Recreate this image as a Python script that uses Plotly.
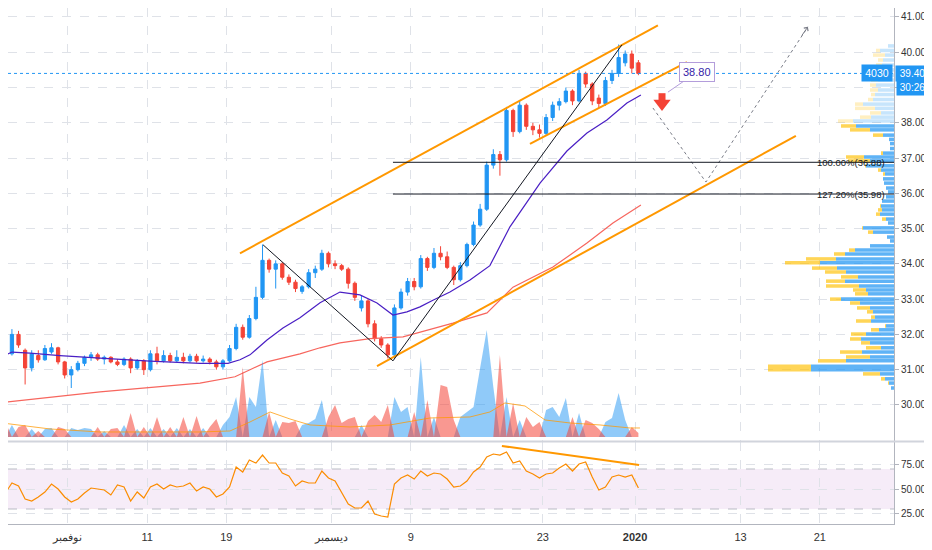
import plotly.graph_objects as go

# --- Price bars (4030, two bars per trading day, x = trading-day count from 27 Oct) ---
opens = [31.50, 31.45, 32.00, 31.55, 31.05, 31.40, 31.28, 31.50, 31.62, 31.22,
         30.85, 31.00, 31.18, 31.35, 31.42, 31.30, 31.35, 31.22, 31.15, 31.30,
         31.05, 31.25, 31.00, 31.45, 31.25, 31.40, 31.25, 31.35, 31.25, 31.38,
         31.25, 31.30, 31.22, 31.08, 31.25, 31.60, 32.20, 31.92, 32.45, 33.05,
         34.10, 33.85, 34.00, 33.62, 33.48, 33.22, 33.35, 33.75, 33.85, 34.30,
         34.00, 33.95, 33.85, 33.45, 32.75, 32.95, 32.30, 31.88, 31.70, 31.42,
         32.75, 33.20, 33.50, 33.35, 34.15, 33.90, 34.30, 34.20, 33.90, 33.55,
         33.95, 34.55, 35.10, 35.55, 36.80, 37.10, 36.95, 38.35, 37.75, 38.50,
         37.90, 37.80, 37.70, 38.15, 38.50, 38.60, 38.90, 38.62, 39.40, 39.10,
         38.70, 38.55, 39.20, 39.40, 39.70, 39.95, 39.70]
highs = [31.60, 32.15, 32.10, 31.60, 31.55, 31.55, 31.70, 31.75, 31.65, 31.25,
         31.10, 31.25, 31.40, 31.50, 31.48, 31.40, 31.38, 31.30, 31.35, 31.35,
         31.30, 31.30, 31.55, 31.65, 31.55, 31.48, 31.55, 31.48, 31.45, 31.45,
         31.40, 31.35, 31.28, 31.30, 31.70, 32.30, 32.28, 32.55, 33.35, 34.55,
         34.15, 34.10, 34.05, 33.70, 33.55, 33.40, 33.85, 33.95, 34.40, 34.35,
         34.10, 34.00, 33.90, 33.50, 33.10, 33.00, 32.40, 31.95, 31.75, 32.85,
         33.30, 33.60, 33.60, 34.25, 34.20, 34.45, 34.50, 34.35, 33.95, 34.05,
         34.60, 35.20, 35.70, 36.90, 37.25, 37.20, 38.45, 38.40, 38.62, 38.55,
         38.00, 37.95, 38.25, 38.60, 38.70, 39.00, 38.95, 39.50, 39.45, 39.15,
         38.80, 39.30, 39.50, 40.22, 40.05, 40.05, 39.78]
lows = [31.28, 31.40, 31.62, 30.58, 30.95, 31.20, 31.25, 31.45, 31.15, 30.75,
        30.48, 30.95, 31.10, 31.25, 31.25, 31.15, 31.18, 31.10, 31.10, 30.90,
        31.00, 30.85, 30.95, 31.15, 31.20, 31.20, 31.20, 31.18, 31.20, 31.20,
        31.20, 31.15, 31.00, 31.00, 31.22, 31.55, 31.85, 31.88, 32.40, 33.00,
        33.75, 33.30, 33.55, 33.40, 33.20, 33.15, 33.30, 33.60, 33.80, 33.90,
        33.85, 33.80, 33.30, 32.95, 32.65, 32.20, 31.80, 31.62, 31.32, 31.30,
        32.70, 33.10, 33.25, 33.30, 33.80, 33.85, 34.10, 33.85, 33.40, 33.50,
        33.90, 34.50, 35.05, 35.50, 36.70, 36.50, 36.90, 37.60, 37.70, 37.80,
        37.65, 37.58, 37.65, 38.05, 38.35, 38.55, 38.50, 38.58, 39.00, 38.50,
        38.42, 38.48, 39.10, 39.30, 39.60, 39.40, 39.35]
closes = [31.40, 32.00, 31.70, 31.05, 31.45, 31.28, 31.60, 31.62, 31.22, 30.85,
          31.00, 31.18, 31.35, 31.42, 31.30, 31.35, 31.22, 31.15, 31.30, 31.05,
          31.25, 31.00, 31.45, 31.25, 31.40, 31.25, 31.35, 31.25, 31.38, 31.25,
          31.30, 31.22, 31.08, 31.25, 31.60, 32.20, 31.92, 32.45, 33.05, 34.10,
          33.85, 34.00, 33.62, 33.48, 33.30, 33.35, 33.75, 33.85, 34.30, 34.00,
          33.95, 33.85, 33.45, 33.05, 32.95, 32.30, 31.88, 31.70, 31.42, 32.75,
          33.20, 33.50, 33.35, 34.15, 33.90, 34.30, 34.20, 33.90, 33.55, 33.95,
          34.55, 35.10, 35.55, 36.80, 37.10, 36.95, 38.35, 37.75, 38.50, 37.90,
          37.80, 37.70, 38.15, 38.50, 38.60, 38.90, 38.62, 39.40, 39.10, 38.62,
          38.55, 39.20, 39.40, 39.85, 39.95, 39.55, 39.40]
volumes = [15, 12, 10, 12, 8, 6, 8, 9, 10, 8,
           9, 7, 9, 8, 10, 6, 8, 9, 12, 24,
           8, 10, 9, 20, 8, 10, 9, 20, 8, 21,
           9, 10, 18, 12, 20, 40, 70, 40, 30, 77,
           25, 17, 15, 14, 16, 12, 14, 18, 37, 20,
           32, 14, 18, 20, 12, 16, 22, 15, 32, 40,
           25, 30, 25, 80, 37, 20, 52, 50, 17, 20,
           25, 30, 69, 107, 50, 82, 40, 34, 17, 20,
           10, 15, 27, 30, 20, 39, 20, 24, 17, 14,
           8, 15, 19, 44, 17, 10, 4]
rsi = [46, 56, 53, 40, 38, 42, 47, 55, 50, 42,
       37, 40, 46, 51, 50, 49, 44, 54, 52, 38,
       47, 41, 52, 55, 50, 54, 52, 53, 56, 48,
       52, 50, 42, 45, 52, 72, 67, 79, 76, 84,
       76, 76, 66, 63, 53, 58, 56, 56, 68, 61,
       58, 46, 35, 31, 31, 38, 25, 23, 22, 55,
       61, 64, 60, 68, 63, 66, 65, 60, 52, 53,
       58, 67, 72, 82, 85, 84, 87, 76, 78, 68,
       65, 61, 65, 66, 71, 75, 68, 75, 77, 62,
       49, 52, 62, 64, 62, 64, 51]

# moving averages
ma_fast_x = [0.07, 0.76, 2.12, 4.39, 7.43, 11.22, 15.01, 17.13, 18.04, 18.8, 20.09, 21.3,
             22.59, 24.11, 25.62, 27.14, 28.43, 29.64, 30.7, 31.69, 32.67, 33.96, 35.48,
             36.99, 38.51, 40.79, 42.83, 44.35, 45.86, 47.38, 48.44]
ma_fast = [31.38, 31.50, 31.47, 31.40, 31.33, 31.24, 31.18, 31.18, 31.28, 31.42, 31.84, 32.18,
           32.47, 32.90, 33.20, 33.12, 32.89, 32.55, 32.64, 32.78, 32.97, 33.20, 33.54,
           33.95, 35.05, 36.29, 37.20, 37.71, 38.08, 38.56, 38.79]
ma_slow_x = [-0.15, 7.43, 15.01, 17.66, 18.8, 20.09, 22.59, 24.11, 25.62, 27.9, 30.4,
             34.19, 36.77, 38.74, 41.77, 44.35, 46.32, 48.44]
ma_slow = [30.06, 30.37, 30.62, 30.80, 31.00, 31.22, 31.45, 31.62, 31.76, 31.88, 31.93,
           32.32, 32.61, 33.34, 33.91, 34.59, 35.16, 35.67]
vol_ma_x = [0.0, 3.64, 7.43, 11.22, 15.01, 17.28, 18.8, 20.32, 21.83, 23.35, 26.38, 29.41,
            32.45, 35.48, 36.99, 38.13, 39.65, 41.17, 43.06, 45.34, 47.61, 48.37]
vol_ma = [14, 8, 5, 5, 5, 6, 15, 25, 18, 12, 10, 12, 19, 20, 25, 34, 31, 17, 14, 12, 9, 9]

# visible-range volume profile
profile_price = [40.18, 40.05, 39.92, 39.78, 39.64, 39.50, 39.35, 39.21, 39.07, 38.93,
                 38.80, 38.66, 38.53, 38.41, 38.28, 38.16, 38.05, 37.91, 37.80, 37.65,
                 37.53, 37.41, 37.27, 37.14, 37.03, 36.92, 36.78, 36.66, 36.55, 36.41,
                 36.29, 36.15, 36.04, 35.90, 35.78, 35.64, 35.53, 35.41, 35.27, 35.16,
                 35.02, 34.90, 34.76, 34.65, 34.51, 34.39, 34.28, 34.14, 34.03, 33.88,
                 33.77, 33.63, 33.51, 33.37, 33.26, 33.15, 33.00, 32.89, 32.75, 32.64,
                 32.49, 32.38, 32.24, 32.13, 32.01, 31.87, 31.76, 31.62, 31.50, 31.36,
                 31.25, 31.10, 31.00, 30.88, 30.74, 30.62, 30.48]
profile_up = [6, 14, 9, 11, 12, 14, 15, 16, 18, 16,
              19, 21, 31, 19, 13, 23, 41, 38, 24, 11,
              5, 4, 4, 11, 30, 24, 28, 13, 9, 11,
              10, 8, 6, 8, 12, 13, 12, 14, 8, 6,
              31, 21, 7, 4, 24, 39, 49, 58, 74, 57,
              48, 36, 49, 35, 28, 26, 53, 34, 24, 21,
              19, 23, 8, 15, 28, 33, 24, 13, 32, 24,
              48, 83, 83, 14, 9, 5, 3]
profile_down = [0, 4, 12, 5, 6, 6, 7, 7, 6, 8,
                4, 5, 8, 20, 11, 11, 15, 15, 20, 10,
                0, 0, 0, 2, 18, 22, 1, 3, 2, 0,
                0, 0, 0, 0, 0, 1, 4, 4, 4, 0,
                1, 5, 0, 0, 0, 6, 11, 30, 35, 25,
                21, 17, 19, 33, 13, 13, 11, 10, 13, 6,
                4, 15, 1, 8, 15, 11, 9, 15, 22, 24,
                28, 43, 43, 17, 4, 1, 0]

tick_days = [5, 11, 17, 25, 31, 41, 48, 56, 62]
tick_text = ["نوفمبر", "11", "19", "ديسمبر", "9", "23", "<b>2020</b>", "13", "21"]
price_ticks = [30, 31, 32, 33, 34, 35, 36, 37, 38, 39, 40, 41]
rsi_ticks = [25, 50, 75]

LAST_PRICE = 39.40
FIB_LEVELS = [("100.00%(36.88)", 36.88), ("127.20%(35.98)", 35.98)]

# --- Style ---
UP = "#2196f3"
DOWN = "#f44336"
GRID = "#dfe2e8"
AXIS = "#b2b5be"
TEXT = "#333333"
FONT = "Liberation Sans, Arial, sans-serif"
ORANGE = "#ff9800"

bar_x = [0.25 + 0.5 * i for i in range(len(closes))]
vol_up = [v if c >= o else 0 for v, o, c in zip(volumes, opens, closes)]
vol_dn = [v if c < o else 0 for v, o, c in zip(volumes, opens, closes)]

# the 39.00 label sits under the countdown box, so leave it blank
price_text = ["" if p == 39 else f"{p:.2f}" for p in price_ticks]

fig = go.Figure()

# volume (own hidden axis at the bottom of the price pane)
fig.add_trace(go.Scatter(x=bar_x, y=vol_up, mode="lines", fill="tozeroy",
                         line=dict(width=0, color=UP), fillcolor="rgba(33,150,243,0.5)",
                         yaxis="y3", hoverinfo="skip"))
fig.add_trace(go.Scatter(x=bar_x, y=vol_dn, mode="lines", fill="tozeroy",
                         line=dict(width=0, color=DOWN), fillcolor="rgba(244,67,54,0.55)",
                         yaxis="y3", hoverinfo="skip"))
fig.add_trace(go.Scatter(x=vol_ma_x, y=vol_ma, mode="lines",
                         line=dict(width=1, color="rgba(255,152,0,0.75)"), yaxis="y3"))

# volume profile, anchored to the price scale
faded = [p > 37.95 for p in profile_price]
fig.add_trace(go.Bar(y=profile_price, x=profile_down, base=profile_up, orientation="h",
                     width=0.1, xaxis="x2", yaxis="y",
                     marker=dict(color=["rgba(255,193,7,0.25)" if f else "rgba(255,193,7,0.68)" for f in faded],
                                 line=dict(width=0))))
fig.add_trace(go.Bar(y=profile_price, x=profile_up, orientation="h",
                     width=0.1, xaxis="x2", yaxis="y",
                     marker=dict(color=["rgba(33,150,243,0.25)" if f else "rgba(33,150,243,0.72)" for f in faded],
                                 line=dict(width=0))))

# moving averages
fig.add_trace(go.Scatter(x=ma_slow_x, y=ma_slow, mode="lines",
                         line=dict(color="#f7665e", width=1.2)))
fig.add_trace(go.Scatter(x=ma_fast_x, y=ma_fast, mode="lines",
                         line=dict(color="#4a1fc4", width=1.2)))

fig.add_trace(go.Candlestick(
    x=bar_x, open=opens, high=highs, low=lows, close=closes,
    increasing=dict(line=dict(color=UP, width=1), fillcolor=UP),
    decreasing=dict(line=dict(color=DOWN, width=1), fillcolor=DOWN),
    whiskerwidth=0,
))

# RSI pane
fig.add_trace(go.Scatter(x=bar_x, y=rsi, mode="lines", yaxis="y2",
                         line=dict(color="#fb8c00", width=1.2)))

# --- Drawings ---
shapes = []
# rsi band
shapes.append(dict(type="rect", xref="paper", yref="y2", x0=0, x1=1, y0=30, y1=70,
                   fillcolor="rgba(156,39,176,0.09)", line=dict(width=0), layer="below"))
for lvl in (30, 70):
    shapes.append(dict(type="line", xref="paper", yref="y2", x0=0, x1=1, y0=lvl, y1=lvl,
                       line=dict(color="#b9bcc4", width=1, dash="dash"), layer="below"))
# pane divider
shapes.append(dict(type="line", xref="paper", yref="paper", x0=0, x1=1.043,
                   y0=0.1599, y1=0.1599, line=dict(color="#d1d4dc", width=2)))
# last price line
shapes.append(dict(type="line", xref="paper", yref="y", x0=0, x1=1,
                   y0=LAST_PRICE, y1=LAST_PRICE, line=dict(color=UP, width=1, dash="dot")))

channel_lines = [((18.04, 34.30), (49.73, 40.76)),
                 ((28.43, 31.10), (60.19, 37.63)),
                 ((40.03, 37.40), (51.93, 39.72))]
for (x0, y0), (x1, y1) in channel_lines:
    shapes.append(dict(type="line", xref="x", yref="y", x0=x0, y0=y0, x1=x1, y1=y1,
                       line=dict(color=ORANGE, width=2)))
shapes.append(dict(type="line", xref="x", yref="y2", x0=37.9, y0=93, x1=48.3, y1=74,
                   line=dict(color=ORANGE, width=2)))

swing_path = [(19.79, 34.54), (29.64, 31.25), (47.0, 40.21)]
for (x0, y0), (x1, y1) in zip(swing_path[:-1], swing_path[1:]):
    shapes.append(dict(type="line", xref="x", yref="y", x0=x0, y0=y0, x1=x1, y1=y1,
                       line=dict(color="#131722", width=1)))

for _, lvl in FIB_LEVELS:
    shapes.append(dict(type="line", xref="x", yref="y", x0=29.64, x1=67.63, y0=lvl, y1=lvl,
                       line=dict(color="#131722", width=1)))

# projected path (dotted)
proj_x = [49.35, 53.37, 61.1]
proj_y = [38.42, 36.32, 40.72]
fig.add_trace(go.Scatter(x=proj_x, y=proj_y, mode="lines",
                         line=dict(color="#787b86", width=1, dash="dot")))

# red arrow marker
fig.add_trace(go.Scatter(x=[50.04], y=[38.74], mode="markers",
                         marker=dict(symbol="square", size=7, color="#f44336", line=dict(width=0))))
fig.add_trace(go.Scatter(x=[50.04], y=[38.55], mode="markers",
                         marker=dict(symbol="triangle-down", size=15, color="#f44336", line=dict(width=0))))

annotations = []
for label, lvl in FIB_LEVELS:
    annotations.append(dict(xref="paper", yref="y", x=0.9921, y=lvl, text=label,
                            showarrow=False, xanchor="right", yanchor="middle",
                            font=dict(size=9.5, color="#131722", family=FONT)))
annotations.append(dict(xref="x", yref="y", x=61.1, y=40.72, ax=-7, ay=10, text="",
                        showarrow=True, arrowhead=4, arrowsize=1, arrowwidth=1,
                        arrowcolor="#787b86"))
annotations.append(dict(xref="x", yref="y", x=50.49, y=38.87, ax=29, ay=-20,
                        text="38.80", showarrow=True, arrowhead=0, arrowwidth=1,
                        arrowcolor="#b39ddb", bgcolor="white", bordercolor="#b39ddb",
                        borderwidth=1, borderpad=3,
                        font=dict(size=11, color="#3523a8", family=FONT)))
# price scale labels
annotations.append(dict(xref="paper", yref="y", x=1, y=LAST_PRICE, text="39.40",
                        showarrow=False, xanchor="left", yanchor="middle", width=29,
                        bgcolor=UP, borderpad=2, xshift=1,
                        font=dict(size=10, color="white", family=FONT)))
annotations.append(dict(xref="paper", yref="y", x=1, y=LAST_PRICE, text="4030",
                        showarrow=False, xanchor="right", yanchor="middle", width=26,
                        bgcolor=UP, borderpad=2, xshift=-1,
                        font=dict(size=10.5, color="white", family=FONT)))
annotations.append(dict(xref="paper", yref="y", x=1, y=39.015, text="30:26",
                        showarrow=False, xanchor="left", yanchor="middle", width=27,
                        bgcolor=UP, borderpad=2, xshift=2,
                        font=dict(size=10, color="white", family=FONT)))

# page body adds an 8px offset, so the figure is 8px smaller on each axis
fig.update_layout(
    width=924, height=542,
    margin=dict(l=0, r=38, t=0, b=26),
    paper_bgcolor="white", plot_bgcolor="white",
    showlegend=False, barmode="overlay",
    font=dict(family=FONT, size=11, color=TEXT),
    shapes=shapes, annotations=annotations,
    xaxis=dict(range=[0.452, 67.63], domain=[0, 1], anchor="y2",
               tickvals=tick_days, ticktext=tick_text,
               ticks="outside", ticklen=3, tickcolor="rgba(0,0,0,0)",
               showgrid=True, gridcolor=GRID, griddash="dash", gridwidth=1,
               showline=True, linecolor=AXIS, linewidth=1, zeroline=False,
               rangeslider=dict(visible=False), tickfont=dict(size=11, color=TEXT)),
    xaxis2=dict(overlaying="x", range=[886, 0], visible=False),
    yaxis=dict(domain=[0.1609, 1], range=[28.978, 41.255], side="right", anchor="x",
               tickvals=price_ticks, ticktext=price_text,
               showgrid=True, gridcolor=GRID, griddash="dash", zeroline=False,
               showline=True, linecolor=AXIS, ticks="outside", ticklen=4, tickcolor=AXIS,
               tickfont=dict(size=10, color=TEXT)),
    yaxis2=dict(domain=[0, 0.1589], range=[15, 97], side="right", anchor="x",
                tickvals=rsi_ticks, ticktext=[f"{v:.2f}" for v in rsi_ticks],
                showgrid=True, gridcolor=GRID, griddash="dash", zeroline=False,
                showline=True, linecolor=AXIS, ticks="outside", ticklen=4, tickcolor=AXIS,
                tickfont=dict(size=10, color=TEXT)),
    yaxis3=dict(overlaying="y", range=[-4, 429], visible=False),
)

fig.write_html("out.html")
